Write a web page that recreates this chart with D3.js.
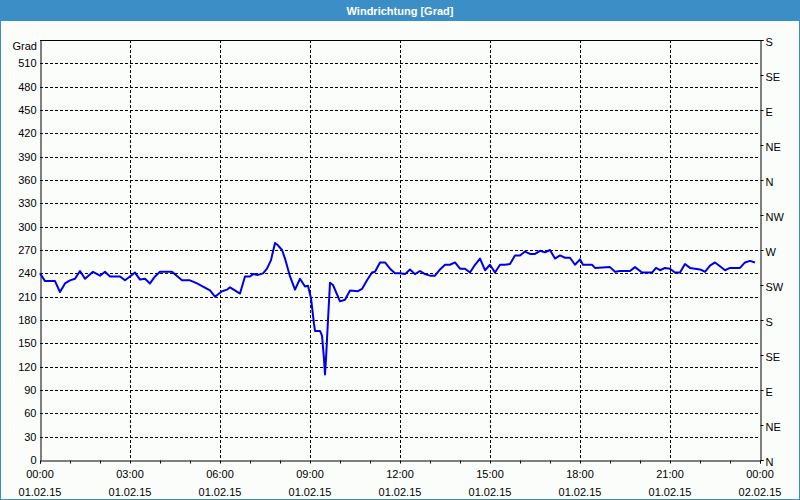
<!DOCTYPE html>
<html>
<head>
<meta charset="utf-8">
<script src="https://cdn.jsdelivr.net/npm/d3@7"></script>
<style>
  html, body { margin: 0; padding: 0; background: #fbfdfb; }
  svg { display: block; }
  text { font-family: "Liberation Sans", Arial, sans-serif; font-size: 11px; fill: #000; }
</style>
</head>
<body>
<svg id="chart" width="800" height="500"></svg>
<script>
// ---- data (minutes after 01.02.15 00:00, wind direction in degrees) ----
const minutes = [0,10,30,40,50,60,70,80,90,106,120,130,140,160,170,180,190,200,210,220,230,240,264,284,300,314,326,340,350,364,374,380,
  400,410,420,426,436,446,454,462,470,476,484,490,500,510,520,530,536,542,548,550,560,564,568,570,572,576,580,586,600,610,620,636,644,654,664,670,680,690,700,710,
  720,730,740,750,760,770,780,790,800,810,820,830,840,850,860,870,880,890,900,910,920,930,940,950,960,970,980,990,1000,1010,1020,1030,1040,1050,1060,1070,
  1080,1086,1104,1110,1140,1150,1160,1180,1190,1204,1224,1232,1240,1250,1260,1270,1280,1290,1300,1320,1330,1340,1350,1360,1370,1380,1400,1410,1420,1430];
const degrees = [240,230,230,216,227,231,233,243,233,242,237,242,236,236,231,236,241,232,233,227,236,242,242,231,231,227,223,218,210,217,219,222,
  214,236,236,239,238,240,246,257,279,276,270,259,236,219,233,223,224,208,175,166,166,160,130,110,130,180,228,225,204,206,218,217,220,231,241,242,254,254,246,240,
  240,239,245,239,243,239,237,237,245,251,251,254,246,246,241,251,259,244,251,241,251,251,252,263,263,268,265,265,269,267,270,259,263,260,260,251,
  258,251,251,247,248,242,243,243,248,241,241,247,244,247,246,241,241,252,247,245,242,250,254,249,244,247,247,254,256,254];

const title = "Windrichtung [Grad]";
const yUnit = "Grad";
const yTicks = [0,30,60,90,120,150,180,210,240,270,300,330,360,390,420,450,480,510];
const compassTicks = [0,45,90,135,180,225,270,315,360,405,450,495,540];
const compassLabels = ["N","NE","E","SE","S","SW","W","NW","N","NE","E","SE","S"];
const xTickHours = [0,3,6,9,12,15,18,21,24];
const xTimeLabels = ["00:00","03:00","06:00","09:00","12:00","15:00","18:00","21:00","00:00"];
const xDateLabels = ["01.02.15","01.02.15","01.02.15","01.02.15","01.02.15","01.02.15","01.02.15","01.02.15","02.02.15"];
const minorHours = d3.range(0, 25);

// ---- layout ----
const W = 800, H = 500;
const pL = 40, pR = 760, pT = 40, pB = 460;
const svg = d3.select("#chart");

// frame & title bar
svg.append("rect").attr("x", 0.5).attr("y", 0.5).attr("width", W - 1).attr("height", H - 1)
  .attr("fill", "#fbfdfb").attr("stroke", "#3b8fc6");
svg.append("rect").attr("x", 0).attr("y", 0).attr("width", W).attr("height", 21).attr("fill", "#3b8fc6");
svg.append("text").attr("x", W / 2).attr("y", 15).attr("text-anchor", "middle")
  .style("font-weight", "bold").style("fill", "#fff").text(title);

const x = d3.scaleLinear().domain([0, 24 * 60]).range([pL, pR]);
const y = d3.scaleLinear().domain([0, 540]).range([pB, pT]);

// grid
const grid = svg.append("g").attr("stroke", "#000").attr("stroke-width", 1).attr("stroke-dasharray", "3,2");
grid.selectAll("line.h").data(yTicks.filter(d => d > 0)).join("line").attr("class", "h")
  .attr("x1", pL).attr("x2", pR)
  .attr("y1", d => Math.round(y(d)) + 0.5).attr("y2", d => Math.round(y(d)) + 0.5);
grid.selectAll("line.v").data(xTickHours.slice(1, -1)).join("line").attr("class", "v")
  .attr("y1", pT).attr("y2", pB)
  .attr("x1", d => Math.round(x(d * 60)) + 0.5).attr("x2", d => Math.round(x(d * 60)) + 0.5);

// axes
const yAxis = d3.axisLeft(y).tickValues(yTicks).tickSize(0).tickPadding(4);
const gy = svg.append("g").attr("transform", `translate(${pL + 0.5},0)`).call(yAxis);
gy.select(".domain").attr("stroke", "#000");
gy.selectAll("text").style("font-family", "Liberation Sans, Arial, sans-serif").style("font-size", "11px");

const yRight = d3.axisRight(y).tickValues(compassTicks).tickSize(3).tickPadding(2)
  .tickFormat((d, i) => compassLabels[i]);
const gr = svg.append("g").attr("transform", `translate(${pR + 0.5},0)`).call(yRight);
gr.select(".domain").attr("stroke", "#000");
gr.selectAll("text").style("font-family", "Liberation Sans, Arial, sans-serif").style("font-size", "11px").attr("dy", "0.5em");

const xAxis = d3.axisBottom(x).tickValues(minorHours.map(h => h * 60)).tickSize(3).tickFormat("");
const gx = svg.append("g").attr("transform", `translate(0,${pB + 0.5})`).call(xAxis);
gx.select(".domain").attr("stroke", "#000");

const xl = svg.append("g");
xl.selectAll("text.t").data(xTickHours).join("text").attr("class", "t")
  .attr("x", d => x(d * 60)).attr("y", 478).attr("text-anchor", "middle")
  .text((d, i) => xTimeLabels[i]);
xl.selectAll("text.d").data(xTickHours).join("text").attr("class", "d")
  .attr("x", d => x(d * 60)).attr("y", 496).attr("text-anchor", "middle")
  .text((d, i) => xDateLabels[i]);

// top border
svg.append("line").attr("x1", pL).attr("x2", pR + 1).attr("y1", pT + 0.5).attr("y2", pT + 0.5).attr("stroke", "#000");

svg.append("text").attr("x", 37).attr("y", 50).attr("text-anchor", "end").text(yUnit);

// series line
const line = d3.line().x((d, i) => x(minutes[i])).y(d => y(d));
svg.append("path").datum(degrees).attr("d", line)
  .attr("fill", "none").attr("stroke", "#0000e6").attr("stroke-width", 2).attr("stroke-linejoin", "round");
</script>
</body>
</html>
